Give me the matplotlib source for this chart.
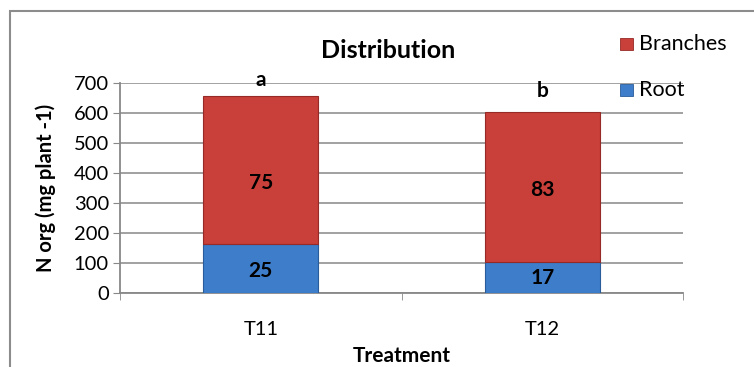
import matplotlib
matplotlib.use("Agg")
import matplotlib.pyplot as plt
from matplotlib.patches import Rectangle

categories = ["T11", "T12"]
series_names = ["Root", "Branches"]
root_vals = [163, 105]
branch_vals = [492, 498]
root_pct = ["25", "17"]
branch_pct = ["75", "83"]
letters = ["a", "b"]
letter_y = [708, 672]
root_label_y = [74, 51]
branch_label_y = [366, 342]
yticks = [0, 100, 200, 300, 400, 500, 600, 700]

plt.rcParams['font.family'] = ['Lato', 'DejaVu Sans']

W, H = 754, 367
fig = plt.figure(figsize=(W / 100, H / 100), dpi=100)
ax = fig.add_axes([120 / W, 1 - 293.3 / H, (683 - 120) / W, (293.3 - 82.7) / H])

red = "#C93F3A"
red_edge = "#962A26"
blue = "#3D7DCA"
blue_edge = "#2A5C9A"

x = list(range(len(categories)))
bw = 0.41
ax.bar(x, root_vals, bw, color=blue, edgecolor=blue_edge, linewidth=0.8, zorder=3, label=series_names[0])
ax.bar(x, branch_vals, bw, bottom=root_vals, color=red, edgecolor=red_edge, linewidth=0.8, zorder=3, label=series_names[1])

for i in x:
    ax.text(i, root_label_y[i], root_pct[i], ha="center", va="center", fontsize=15, fontweight="bold", zorder=4)
    ax.text(i, branch_label_y[i], branch_pct[i], ha="center", va="center", fontsize=15, fontweight="bold", zorder=4)
    ax.text(i, letter_y[i], letters[i], ha="center", va="center", fontsize=15, fontweight="bold", zorder=4, clip_on=False)

ax.set_xlim(-0.5, 1.5)
ax.set_ylim(0, 700)
ax.set_yticks(yticks)
ax.set_xticks(x)
ax.set_xticklabels(categories, fontsize=14.5)
ax.set_xticks([-0.5, 0.5, 1.5], minor=True)
ax.tick_params(axis="x", which="major", length=0, pad=20)
ax.tick_params(axis="x", which="minor", length=5, color="#888888")
ax.tick_params(axis="y", length=5, color="#888888", labelsize=14.5, pad=3)
ax.yaxis.grid(True, color="#9A9A9A", linewidth=1.3, zorder=0)
ax.set_axisbelow(True)
for s in ["top", "right"]:
    ax.spines[s].set_visible(False)
for s in ["left", "bottom"]:
    ax.spines[s].set_color("#888888")
    ax.spines[s].set_linewidth(1.3)

ax.set_ylabel("N org (mg plant -1)", fontsize=14.5, fontweight="bold", labelpad=13)
ax.set_xlabel("Treatment", fontsize=15, fontweight="bold", labelpad=6)
fig.text(388 / W, 1 - 50 / H, "Distribution", ha="center", va="center", fontsize=18, fontweight="bold")

# legend
leg_items = [(series_names[1], red, red_edge, 44), (series_names[0], blue, blue_edge, 90)]
for name, c, ec, py in leg_items:
    fig.add_artist(Rectangle((620 / W, 1 - (py + 6) / H), 13 / W, 12 / H, transform=fig.transFigure,
                             facecolor=c, edgecolor=ec, linewidth=0.6, zorder=5))
    fig.text(639 / W, 1 - py / H, name, ha="left", va="center", fontsize=15.5, zorder=5)

# outer frame
fig.add_artist(Rectangle((10 / W, -0.05), 1.1, 1 - 11 / H + 0.05, transform=fig.transFigure,
                         facecolor="none", edgecolor="#8C8C8C", linewidth=1.5))

fig.savefig("out.png", dpi=100)
